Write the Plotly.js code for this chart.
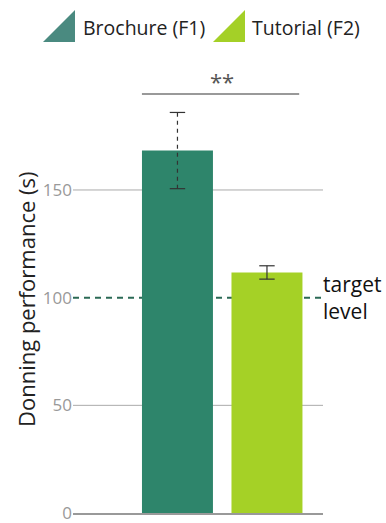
<!DOCTYPE html>
<html><head><meta charset="utf-8">
<script src="https://cdn.plot.ly/plotly-3.0.1.min.js"></script>
<style>html,body{margin:0;padding:0;background:#fff}</style>
</head><body><div id="chart" style="width:386px;height:523px"></div>
<script>
// ---- data ----
const categories = ['Brochure (F1)', 'Tutorial (F2)'];
const means = [168.3, 111.7];
const errors = [17.7, 3.1];
const targetLevel = 100;
const targetLabel = 'target<br>level';
const yTitle = 'Donning performance (s)';
const significance = '**';
const sigLevel = 194.6;
const tickValues = [0, 50, 100, 150];
const tickLabels = ['0', '50', '100', '150'];

// ---- styles ----
const barColors = ['#2e856b', '#a5d126'];
const legendColors = ['#4a8a80', '#a4d027'];
const errDash = ['4px,4px', 'solid'];
const FONT = 'Open Sans, sans-serif';

const W = 386, H = 523, L = 73, R = 63, T = 50, B = 10;
const px = x => (x - L) / (W - L - R);
const py = y => (H - B - y) / (H - T - B);

const traces = [{
  type: 'bar', x: categories, y: means, width: 0.793,
  marker: {color: barColors, line: {width: 0}},
  showlegend: false, hoverinfo: 'skip'
}];
categories.forEach((c, i) => {
  const lo = means[i] - errors[i], hi = means[i] + errors[i];
  traces.push({type: 'scatter', mode: 'lines', x: [c, c], y: [lo, hi],
    line: {color: '#333', width: 1.2, dash: errDash[i]}, showlegend: false, hoverinfo: 'skip'});
  traces.push({type: 'scatter', mode: 'markers', x: [c, c], y: [lo, hi],
    marker: {symbol: 'line-ew-open', size: 11, color: '#333', line: {color: '#333', width: 1.2}},
    showlegend: false, hoverinfo: 'skip'});
});

const shapes = [];
// gridlines (drawn below bars), skipping the axis base and the target level
tickValues.filter(v => v !== 0 && v !== targetLevel).forEach(v => {
  shapes.push({type: 'line', layer: 'below', xref: 'paper', x0: 0, x1: 1, yref: 'y', y0: v, y1: v,
    line: {color: '#aaa', width: 1}});
});
shapes.push({type: 'line', layer: 'below', xref: 'paper', x0: 0, x1: 1, yref: 'y', y0: targetLevel, y1: targetLevel,
  line: {color: '#2b6a55', width: 2, dash: '6px,5px'}});
shapes.push({type: 'line', xref: 'x', x0: -0.397, x1: 1.36, yref: 'y', y0: sigLevel, y1: sigLevel,
  line: {color: '#999', width: 2}});

const legendX = [[43, 75, 81], [213, 245, 250]];
const annotations = [
  {x: 0.5, xref: 'x', y: sigLevel - 1.8, yref: 'y', yanchor: 'bottom', text: significance, showarrow: false,
   font: {family: FONT, size: 22, color: '#555'}},
  {x: 1, xref: 'paper', y: targetLevel, yref: 'y', xanchor: 'left', yanchor: 'middle', align: 'left', xshift: -2,
   text: targetLabel, showarrow: false, font: {family: FONT, size: 21, color: '#111'}},
  {x: px(26), xref: 'paper', y: py(300), yref: 'paper', xanchor: 'center', yanchor: 'middle', textangle: -90,
   text: yTitle, showarrow: false, font: {family: FONT, size: 22, color: '#222'}}
];
categories.forEach((c, i) => {
  const [a, b, t] = legendX[i];
  shapes.push({type: 'path', xref: 'paper', yref: 'paper',
    path: `M${px(a)},${py(42)} L${px(b)},${py(42)} L${px(b)},${py(10)} Z`,
    fillcolor: legendColors[i], line: {width: 0}});
  annotations.push({x: px(t), xref: 'paper', y: py(27), yref: 'paper', xanchor: 'left', yanchor: 'middle',
    text: c, showarrow: false, font: {family: FONT, size: 19.5, color: '#222'}});
});

const layout = {
  width: W, height: H,
  margin: {l: L, r: R, t: T, b: B},
  paper_bgcolor: '#fff', plot_bgcolor: '#fff',
  showlegend: false,
  xaxis: {type: 'category', range: [-1.167, 1.626], showticklabels: false, showgrid: false,
    zeroline: false, showline: true, linecolor: '#999', linewidth: 2, ticks: ''},
  yaxis: {range: [0, 215], tickvals: tickValues, ticktext: tickLabels, showgrid: false,
    zeroline: false, showline: false, ticks: '', ticklabeloverflow: 'allow',
    tickfont: {family: FONT, size: 17, color: '#999'}},
  shapes: shapes, annotations: annotations
};
Plotly.newPlot('chart', traces, layout, {displayModeBar: false, staticPlot: true});
</script></body></html>
